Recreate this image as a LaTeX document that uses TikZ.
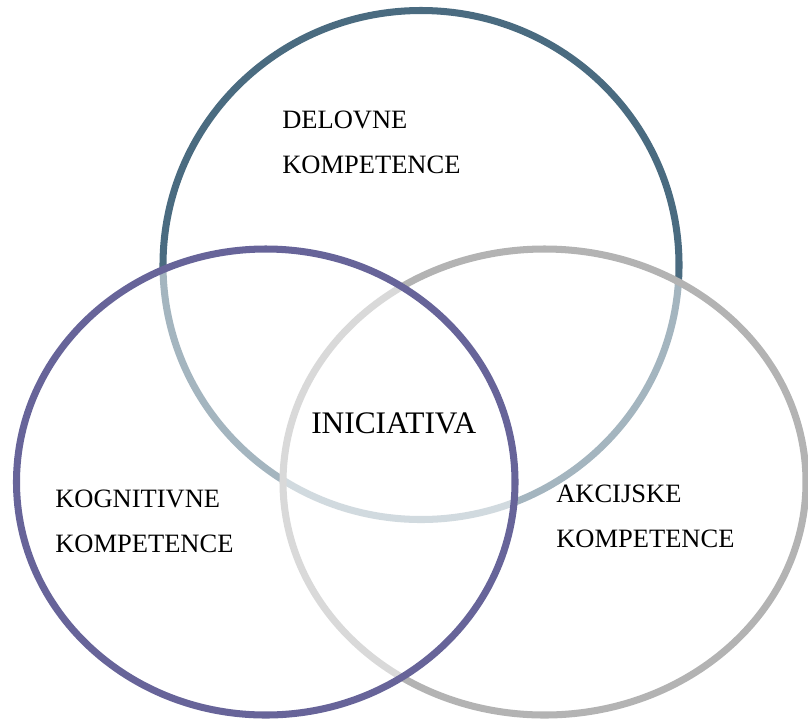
\documentclass[tikz,border=0pt]{standalone}
\usepackage{fontspec}
\setmainfont{Liberation Serif}
\usepackage{xcolor}
\usepackage{tikz}
\usetikzlibrary{calc,positioning}

\definecolor{delovnecol}{HTML}{4A6B80}
\definecolor{kognitivnecol}{HTML}{676499}
\definecolor{akcijskecol}{HTML}{B3B3B3}

\tikzset{
ring/.style = {line width = 5, fill = white, fill opacity = 0.5, draw opacity = 1},
label/.style = {anchor = base west, inner sep = 0pt, align = left,
 font = \fontsize{18.85}{31.9}\selectfont}
}

\begin{document}
\begin{tikzpicture}[x = 0.025cm, y = -0.025cm]

\useasboundingbox (0,0) rectangle (808,719);

\draw[ring, draw = delovnecol] (421,265) ellipse [x radius = 258, y radius = 254.5];

\draw[ring, draw = akcijskecol] (544.5,482) ellipse [x radius = 261.5, y radius = 233];

\draw[ring, draw = kognitivnecol] (265.75,482) ellipse [x radius = 249.25, y radius = 233];

\node[label] (D) at (282,173) {DELOVNE\\KOMPETENCE};

\node[label] (K) at (55,552) {KOGNITIVNE\\KOMPETENCE};

\node[label] (A) at (556,547) {AKCIJSKE\\KOMPETENCE};

\node[anchor = base west, inner sep = 0pt,
 font = \fontsize{22.3}{26}\selectfont] (I) at (311,433) {INICIATIVA};

\end{tikzpicture}
\end{document}
